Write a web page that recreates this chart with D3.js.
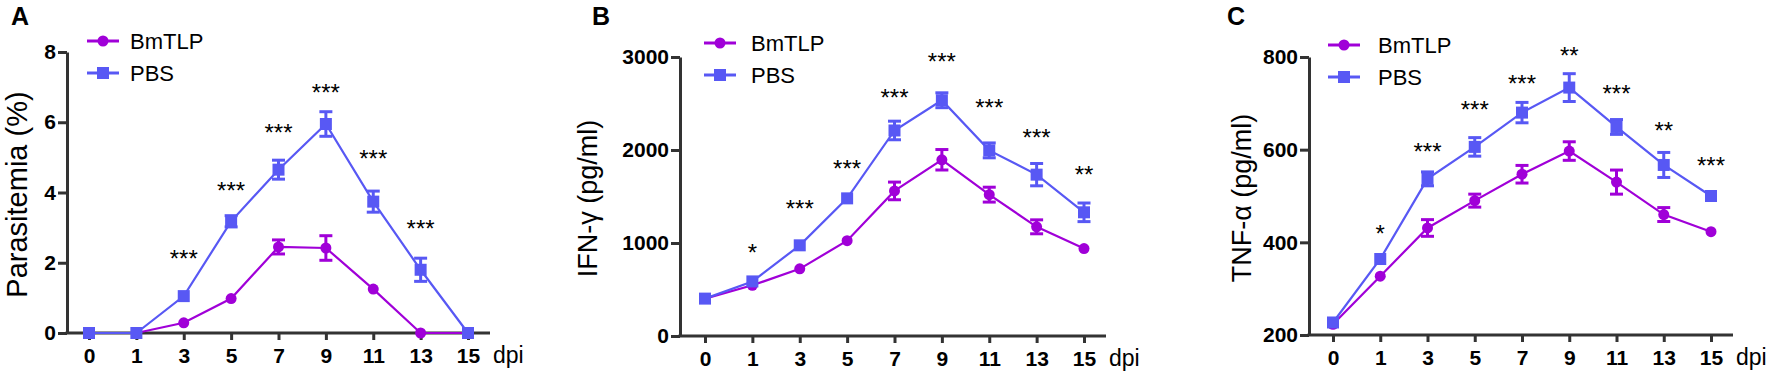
<!DOCTYPE html>
<html>
<head>
<meta charset="utf-8">
<script src="https://cdn.jsdelivr.net/npm/d3@7"></script>
<style>
  body { margin: 0; background: #fff; }
  svg { display: block; font-family: "Liberation Sans", Arial, sans-serif; }
</style>
</head>
<body>
<svg id="chart" width="1772" height="375"></svg>
<script>
// x categories (days post infection)
const days = ["0", "1", "3", "5", "7", "9", "11", "13", "15"];
const seriesNames = ["BmTLP", "PBS"];

// A - parasitemia (%)
const paraBm     = [0, 0, 0.29, 0.98, 2.45, 2.42, 1.25, 0, 0];
const paraBmErr  = [0, 0, 0.04, 0.05, 0.2, 0.35, 0.05, 0, 0];
const paraPbs    = [0, 0, 1.05, 3.18, 4.65, 5.95, 3.74, 1.8, 0];
const paraPbsErr = [0, 0, 0.08, 0.16, 0.27, 0.35, 0.3, 0.33, 0];
const paraStars  = ["", "", "***", "***", "***", "***", "***", "***", ""];
const paraStarY  = [0, 0, 2.28, 4.21, 5.86, 7.0, 5.12, 3.13, 0];
const paraTicks  = [0, 2, 4, 6, 8];

// B - IFN-gamma (pg/ml)
const ifnBm     = [402, 545, 722, 1025, 1560, 1895, 1520, 1174, 940];
const ifnBmErr  = [20, 25, 25, 25, 95, 110, 80, 75, 20];
const ifnPbs    = [402, 587, 975, 1480, 2210, 2535, 1996, 1735, 1330];
const ifnPbsErr = [25, 30, 25, 30, 100, 80, 80, 120, 100];
const ifnStars  = ["", "*", "***", "***", "***", "***", "***", "***", "**"];
const ifnStarY  = [0, 961, 1427, 1854, 2626, 3007, 2520, 2192, 1797];
const ifnTicks  = [0, 1000, 2000, 3000];

// C - TNF-alpha (pg/ml)
const tnfBm     = [223, 327, 431, 490, 547, 597, 530, 460, 423];
const tnfBmErr  = [4, 4, 18, 14, 19, 20, 26, 15, 4];
const tnfPbs    = [227, 364, 537, 606, 680, 734, 649, 567, 500];
const tnfPbsErr = [5, 5, 15, 20, 22, 30, 16, 27, 4];
const tnfStars  = ["", "*", "***", "***", "***", "**", "***", "**", "***"];
const tnfStarY  = [0, 431, 608, 698, 754, 814, 734, 652, 577];
const tnfTicks  = [200, 400, 600, 800];

const colors = { BmTLP: "#a000d8", PBS: "#5858f4" };
const axisColor = "#333";

const svg = d3.select("#chart");

const panels = [
  { letter: "A", letterX: 11, axisX: 67, x0: 89, x15: 468, top: 52, bottom: 333,
    domain: [0, 8], ticks: paraTicks, label: "Parasitemia (%)", labelX: 27, labelSize: 29,
    legendX: 87, legendY: 41, legendTextX: 43,
    bm: paraBm, bmErr: paraBmErr, pbs: paraPbs, pbsErr: paraPbsErr,
    stars: paraStars, starY: paraStarY },
  { letter: "B", letterX: 592, axisX: 680, x0: 705, x15: 1084, top: 57, bottom: 336,
    domain: [0, 3000], ticks: ifnTicks, label: "IFN-γ (pg/ml)", labelX: 597, labelSize: 27,
    legendX: 704, legendY: 43, legendTextX: 47,
    bm: ifnBm, bmErr: ifnBmErr, pbs: ifnPbs, pbsErr: ifnPbsErr,
    stars: ifnStars, starY: ifnStarY },
  { letter: "C", letterX: 1227, axisX: 1309, x0: 1333, x15: 1711, top: 57, bottom: 335,
    domain: [200, 800], ticks: tnfTicks, label: "TNF-α (pg/ml)", labelX: 1251, labelSize: 27,
    legendX: 1328, legendY: 45, legendTextX: 50,
    bm: tnfBm, bmErr: tnfBmErr, pbs: tnfPbs, pbsErr: tnfPbsErr,
    stars: tnfStars, starY: tnfStarY }
];

panels.forEach(p => drawPanel(p));

function drawPanel(p) {
  const g = svg.append("g");

  const x = d3.scalePoint().domain(days).range([p.x0, p.x15]);
  const y = d3.scaleLinear().domain(p.domain).range([p.bottom, p.top]);

  // panel letter
  g.append("text")
    .attr("x", p.letterX).attr("y", 25)
    .attr("font-size", 25).attr("font-weight", "bold")
    .text(p.letter);

  // y axis
  const yAxis = d3.axisLeft(y).tickValues(p.ticks).tickFormat(d3.format("d"))
    .tickSize(9).tickSizeOuter(0).tickPadding(2);
  const ya = g.append("g").attr("transform", `translate(${p.axisX},0)`).call(yAxis);
  ya.select(".domain").attr("stroke", axisColor).attr("stroke-width", 3);
  ya.selectAll(".tick line").attr("stroke", axisColor).attr("stroke-width", 3);
  ya.selectAll(".tick text")
    .attr("font-size", 21).attr("font-weight", "bold")
    .attr("font-family", "Liberation Sans, Arial, sans-serif").attr("fill", "#000");

  // x axis
  const xAxis = d3.axisBottom(x).tickSize(7).tickSizeOuter(0).tickPadding(8);
  const xa = g.append("g").attr("transform", `translate(0,${p.bottom})`).call(xAxis);
  xa.select(".domain").remove();
  xa.selectAll(".tick line").attr("stroke", axisColor).attr("stroke-width", 3);
  xa.selectAll(".tick text")
    .attr("font-size", 21).attr("font-weight", "bold")
    .attr("font-family", "Liberation Sans, Arial, sans-serif").attr("fill", "#000");
  xa.append("line")
    .attr("x1", p.axisX - 1.5).attr("x2", x.range()[1] + 22)
    .attr("y1", 0).attr("y2", 0)
    .attr("stroke", axisColor).attr("stroke-width", 3);

  g.append("text")
    .attr("x", x.range()[1] + 25).attr("y", p.bottom + 30)
    .attr("font-size", 23)
    .text("dpi");

  // y label
  g.append("text")
    .attr("transform", `translate(${p.labelX},${(p.top + p.bottom) / 2 + 2}) rotate(-90)`)
    .attr("text-anchor", "middle")
    .attr("font-size", p.labelSize)
    .text(p.label);

  // series: BmTLP under PBS
  const series = [
    { name: "BmTLP", vals: p.bm, err: p.bmErr },
    { name: "PBS", vals: p.pbs, err: p.pbsErr }
  ];

  series.forEach(s => {
    const c = colors[s.name];
    const pts = days.map((d, i) => ({ d: d, v: s.vals[i], e: s.err[i] }));

    g.append("path")
      .datum(pts)
      .attr("fill", "none").attr("stroke", c).attr("stroke-width", 2.2)
      .attr("d", d3.line().x(q => x(q.d)).y(q => y(q.v)));

    // error bars, only where they stick out of the marker
    const eb = g.append("g").attr("stroke", c).attr("stroke-width", 3);
    pts.filter(q => Math.abs(y(q.v + q.e) - y(q.v)) > 5).forEach(q => {
      const cx = x(q.d);
      const hi = y(q.v + q.e), lo = y(q.v - q.e);
      eb.append("line").attr("x1", cx).attr("x2", cx).attr("y1", lo).attr("y2", hi);
      eb.append("line").attr("x1", cx - 6.5).attr("x2", cx + 6.5).attr("y1", hi).attr("y2", hi);
      eb.append("line").attr("x1", cx - 6.5).attr("x2", cx + 6.5).attr("y1", lo).attr("y2", lo);
    });

    if (s.name === "BmTLP") {
      g.selectAll(null).data(pts).join("circle")
        .attr("cx", q => x(q.d)).attr("cy", q => y(q.v)).attr("r", 5.5)
        .attr("fill", c);
    } else {
      g.selectAll(null).data(pts).join("rect")
        .attr("x", q => x(q.d) - 6).attr("y", q => y(q.v) - 6)
        .attr("width", 12).attr("height", 12)
        .attr("fill", c);
    }
  });

  // significance stars
  g.selectAll(null).data(days.map((d, i) => ({ d: d, s: p.stars[i], v: p.starY[i] })).filter(q => q.s))
    .join("text")
    .attr("x", q => x(q.d)).attr("y", q => y(q.v))
    .attr("dy", "0.58em")
    .attr("text-anchor", "middle")
    .attr("font-size", 24)
    .text(q => q.s);

  // legend
  seriesNames.forEach((n, i) => {
    const ly = p.legendY + i * 32;
    const c = colors[n];
    g.append("line")
      .attr("x1", p.legendX).attr("x2", p.legendX + 32)
      .attr("y1", ly).attr("y2", ly)
      .attr("stroke", c).attr("stroke-width", 3);
    if (n === "BmTLP") {
      g.append("circle").attr("cx", p.legendX + 16).attr("cy", ly).attr("r", 5.5).attr("fill", c);
    } else {
      g.append("rect").attr("x", p.legendX + 10).attr("y", ly - 6).attr("width", 12).attr("height", 12).attr("fill", c);
    }
    g.append("text")
      .attr("x", p.legendX + p.legendTextX).attr("y", ly)
      .attr("dominant-baseline", "central")
      .attr("font-size", 22)
      .text(n);
  });
}
</script>
</body>
</html>
